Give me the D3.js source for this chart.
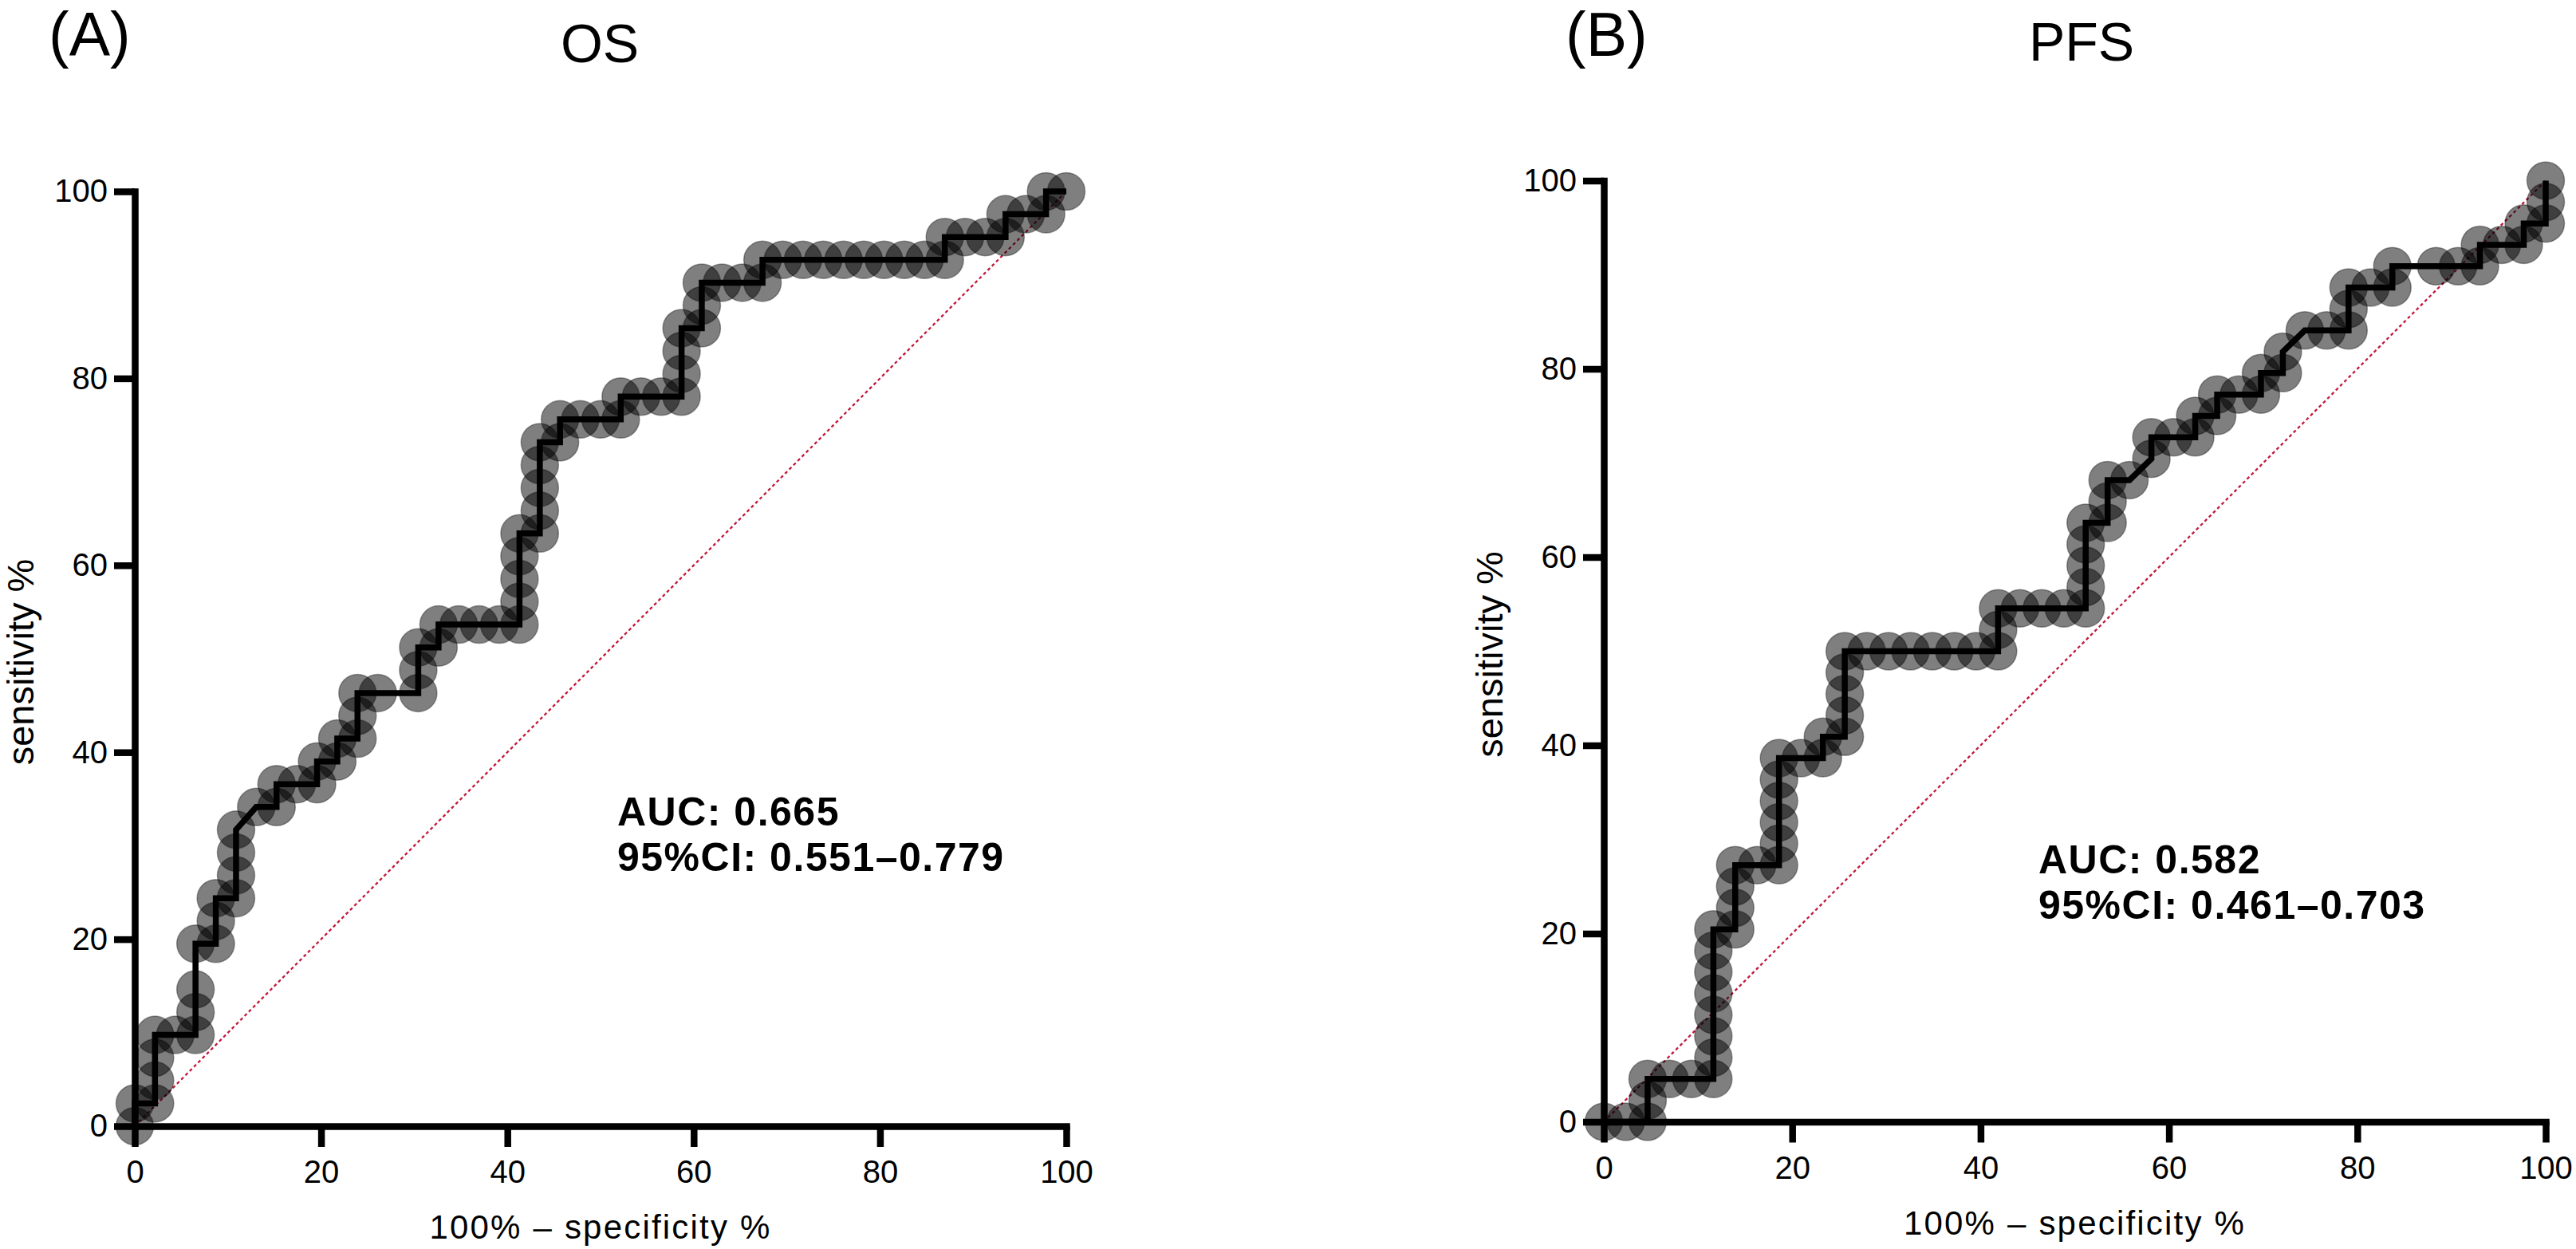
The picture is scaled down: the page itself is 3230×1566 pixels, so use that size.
<!DOCTYPE html>
<html>
<head>
<meta charset="utf-8">
<script src="https://cdn.jsdelivr.net/npm/d3@7/dist/d3.min.js"></script>
<style>
html,body{margin:0;padding:0;background:#ffffff;}
svg{display:block;}
</style>
</head>
<body>
<svg id="chart" width="3230" height="1566"></svg>
<script>
// ---------- data ----------
const tickValues = [0, 20, 40, 60, 80, 100];

// OS: 100% - specificity % (x) and sensitivity % (y)
const osFpr = [0, 0, 2.17, 2.17, 2.17, 2.17, 4.35, 6.52, 6.52, 6.52, 6.52, 8.70, 8.70, 8.70,
  10.87, 10.87, 10.87, 10.87, 13.04, 15.22, 15.22, 17.39, 19.57, 19.57, 21.74, 21.74, 23.91, 23.91,
  23.91, 26.09, 30.43, 30.43, 30.43, 32.61, 32.61, 34.78, 36.96, 39.13, 41.30, 41.30, 41.30, 41.30,
  41.30, 43.48, 43.48, 43.48, 43.48, 43.48, 45.65, 45.65, 47.83, 50.00, 52.17, 52.17, 54.35, 56.52,
  58.70, 58.70, 58.70, 58.70, 60.87, 60.87, 60.87, 63.04, 65.22, 67.39, 67.39, 69.57, 71.74, 73.91,
  76.09, 78.26, 80.43, 82.61, 84.78, 86.96, 86.96, 89.13, 91.30, 93.48, 93.48, 95.65, 97.83, 97.83, 100];
const osTpr = [0, 2.44, 2.44, 4.88, 7.32, 9.76, 9.76, 9.76, 12.20, 14.63, 19.51, 19.51, 21.95, 24.39,
  24.39, 26.83, 29.27, 31.71, 34.15, 34.15, 36.59, 36.59, 36.59, 39.02, 39.02, 41.46, 41.46, 43.90,
  46.34, 46.34, 46.34, 48.78, 51.22, 51.22, 53.66, 53.66, 53.66, 53.66, 53.66, 56.10, 58.54, 60.98,
  63.41, 63.41, 65.85, 68.29, 70.73, 73.17, 73.17, 75.61, 75.61, 75.61, 75.61, 78.05, 78.05, 78.05,
  78.05, 80.49, 82.93, 85.37, 85.37, 87.80, 90.24, 90.24, 90.24, 90.24, 92.68, 92.68, 92.68, 92.68,
  92.68, 92.68, 92.68, 92.68, 92.68, 92.68, 95.12, 95.12, 95.12, 95.12, 97.56, 97.56, 97.56, 100, 100];

// PFS
const pfsFpr = [0, 2.33, 4.65, 4.65, 4.65, 6.98, 9.30, 11.63, 11.63, 11.63, 11.63, 11.63, 11.63, 11.63,
  11.63, 13.95, 13.95, 13.95, 13.95, 16.28, 18.60, 18.60, 18.60, 18.60, 18.60, 18.60, 20.93, 23.26,
  23.26, 25.58, 25.58, 25.58, 25.58, 25.58, 27.91, 30.23, 32.56, 34.88, 37.21, 39.53, 41.86, 41.86,
  41.86, 44.19, 46.51, 48.84, 51.16, 51.16, 51.16, 51.16, 51.16, 53.49, 53.49, 53.49, 55.81, 58.14,
  58.14, 60.47, 62.79, 62.79, 65.12, 65.12, 67.44, 69.77, 69.77, 72.09, 72.09, 74.42, 76.74, 79.07,
  79.07, 79.07, 81.40, 83.72, 83.72, 88.37, 90.70, 93.02, 93.02, 95.35, 97.67, 97.67, 100, 100, 100];
const pfsTpr = [0, 0, 0, 2.27, 4.55, 4.55, 4.55, 4.55, 6.82, 9.09, 11.36, 13.64, 15.91, 18.18,
  20.45, 20.45, 22.73, 25.00, 27.27, 27.27, 27.27, 29.55, 31.82, 34.09, 36.36, 38.64, 38.64, 38.64,
  40.91, 40.91, 43.18, 45.45, 47.73, 50.00, 50.00, 50.00, 50.00, 50.00, 50.00, 50.00, 50.00, 52.27,
  54.55, 54.55, 54.55, 54.55, 54.55, 56.82, 59.09, 61.36, 63.64, 63.64, 65.91, 68.18, 68.18, 70.45,
  72.73, 72.73, 72.73, 75.00, 75.00, 77.27, 77.27, 77.27, 79.55, 79.55, 81.82, 84.09, 84.09, 84.09,
  86.36, 88.64, 88.64, 88.64, 90.91, 90.91, 90.91, 90.91, 93.18, 93.18, 93.18, 95.45, 95.45, 97.73, 100];

const panelLabels = ["(A)", "(B)"];
const panelTitles = ["OS", "PFS"];
const aucTexts = ["AUC: 0.665", "AUC: 0.582"];
const ciTexts = ["95%CI: 0.551–0.779", "95%CI: 0.461–0.703"];
const xTitle = "100% – specificity %";
const yTitle = "sensitivity %";

// ---------- drawing ----------
const FONT = '"Liberation Sans", Arial, Helvetica, sans-serif';
const svg = d3.select("#chart");
svg.append("rect").attr("width", 3230).attr("height", 1566).attr("fill", "#ffffff");

const layouts = [
  {xr: [169, 1337], yr: [1412, 240], labelX: 61, titleX: 752, titleY: 78, aucX: 774, aucY: 1035, yTitleX: 42},
  {xr: [2011, 3192], yr: [1406.5, 226.5], labelX: 1963, titleX: 2610, titleY: 76, aucX: 2556, aucY: 1095, yTitleX: 1884}
];
const series = [
  {fpr: osFpr, tpr: osTpr},
  {fpr: pfsFpr, tpr: pfsTpr}
];

layouts.forEach((L, i) => {
  const x = d3.scaleLinear().domain([0, 100]).range(L.xr);
  const y = d3.scaleLinear().domain([0, 100]).range(L.yr);
  const g = svg.append("g");

  // panel label and title
  g.append("text").attr("x", L.labelX).attr("y", 70)
    .attr("font-family", FONT).attr("font-size", 77).attr("fill", "#000")
    .text(panelLabels[i]);
  g.append("text").attr("x", L.titleX).attr("y", L.titleY)
    .attr("text-anchor", "middle")
    .attr("font-family", FONT).attr("font-size", 68).attr("fill", "#000")
    .text(panelTitles[i]);

  // reference diagonal
  g.append("line")
    .attr("x1", x(0)).attr("y1", y(0)).attr("x2", x(100)).attr("y2", y(100))
    .attr("stroke", "#c3173a").attr("stroke-width", 2.3)
    .attr("stroke-dasharray", "4,3.5");

  const pts = series[i].fpr.map((v, k) => [v, series[i].tpr[k]]);

  // points
  g.append("g").selectAll("circle").data(pts).join("circle")
    .attr("cx", d => x(d[0])).attr("cy", d => y(d[1])).attr("r", 23.5)
    .attr("fill", "rgba(0,0,0,0.5)")
    .attr("stroke", "rgba(0,0,0,0.35)").attr("stroke-width", 1.5);

  // ROC line
  const line = d3.line().x(d => x(d[0])).y(d => y(d[1]));
  g.append("path").datum(pts).attr("d", line)
    .attr("fill", "none").attr("stroke", "#000").attr("stroke-width", 7.5)
    .attr("stroke-linejoin", "miter");

  // axes
  const gx = g.append("g").attr("transform", `translate(0,${y(0)})`)
    .call(d3.axisBottom(x).tickValues(tickValues).tickSize(26).tickSizeOuter(0).tickPadding(17));
  const gy = g.append("g").attr("transform", `translate(${x(0)},0)`)
    .call(d3.axisLeft(y).tickValues(tickValues).tickSize(26).tickSizeOuter(0).tickPadding(8));
  [gx, gy].forEach(a => {
    a.attr("font-family", FONT).attr("font-size", 40);
    a.select(".domain").attr("stroke", "#000").attr("stroke-width", 8.5).attr("stroke-linecap", "square");
    a.selectAll(".tick line").attr("stroke", "#000").attr("stroke-width", 8.5);
    a.selectAll(".tick text").attr("fill", "#000");
  });

  // axis titles
  g.append("text")
    .attr("x", (L.xr[0] + L.xr[1]) / 2).attr("y", y(0) + 141)
    .attr("text-anchor", "middle")
    .attr("font-family", FONT).attr("font-size", 42).attr("letter-spacing", "2.2px")
    .attr("fill", "#000").text(xTitle);
  g.append("text")
    .attr("transform", `translate(${L.yTitleX},${(L.yr[0] + L.yr[1]) / 2 + 4}) rotate(-90)`)
    .attr("text-anchor", "middle")
    .attr("font-family", FONT).attr("font-size", 47)
    .attr("fill", "#000").text(yTitle);

  // AUC annotation (two separate lines)
  g.append("text").attr("x", L.aucX).attr("y", L.aucY)
    .attr("font-family", FONT).attr("font-size", 50).attr("letter-spacing", "1.5px")
    .attr("font-weight", "bold").attr("fill", "#000").text(aucTexts[i]);
  g.append("text").attr("x", L.aucX).attr("y", L.aucY + 57)
    .attr("font-family", FONT).attr("font-size", 50).attr("letter-spacing", "1.5px")
    .attr("font-weight", "bold").attr("fill", "#000").text(ciTexts[i]);
});
</script>
</body>
</html>
